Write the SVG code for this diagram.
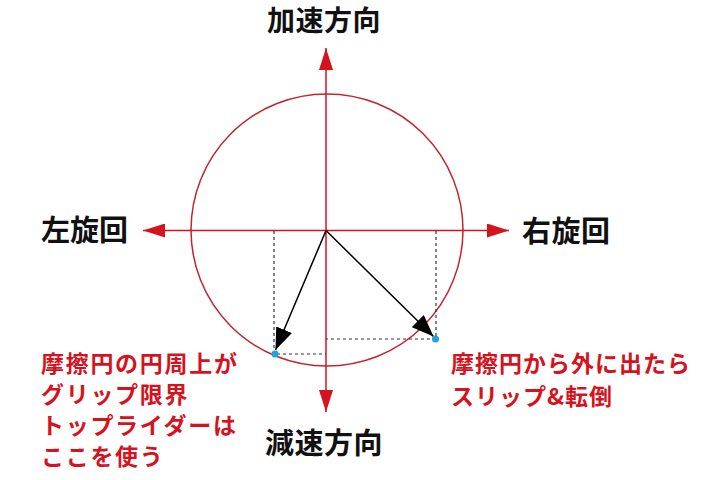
<svg xmlns="http://www.w3.org/2000/svg" width="720" height="480" viewBox="0 0 720 480">
<style>
.lbl{font-family:"Noto Sans CJK JP","Noto Sans",sans-serif;font-weight:700;fill:#111}
.note{font-family:"Noto Sans CJK JP","Noto Sans",sans-serif;font-weight:700;fill:#d5131e;font-size:23px}
.axis{stroke:#d5131e;stroke-width:1.5;fill:none}
.dash{stroke:#333;stroke-width:1.2;stroke-dasharray:3 3;fill:none}
.vec{stroke:#000;stroke-width:1.5;fill:none}
</style>
<defs>
<marker id="ra" viewBox="0 0 22 14" refX="22" refY="7" markerWidth="22" markerHeight="14" markerUnits="userSpaceOnUse" orient="auto"><path d="M0,0 L22,7 L0,14 Z" fill="#d5131e"/></marker>
<marker id="ka" viewBox="0 0 22 17" refX="22" refY="8.5" markerWidth="22" markerHeight="17" markerUnits="userSpaceOnUse" orient="auto"><path d="M0,0 L22,8.5 L0,17 Z" fill="#000"/></marker>
</defs>
<rect width="720" height="480" fill="#fff"/>
<g id="friction-circle">
<circle cx="327" cy="230" r="136" fill="none" stroke="#c0262d" stroke-width="1.5"/>
</g>
<g id="connectors">
<line class="axis" x1="326" y1="230.5" x2="326" y2="48" marker-end="url(#ra)"/>
<line class="axis" x1="326" y1="230.5" x2="326" y2="412" marker-end="url(#ra)"/>
<line class="axis" x1="326" y1="230.5" x2="143" y2="230.5" marker-end="url(#ra)"/>
<line class="axis" x1="326" y1="230.5" x2="509" y2="230.5" marker-end="url(#ra)"/>
<path class="dash" d="M274,231 V354 H326"/>
<path class="dash" d="M436,231 V339 H326"/>
<line class="vec" x1="326" y1="230.5" x2="275.5" y2="350" marker-end="url(#ka)"/>
<line class="vec" x1="326" y1="230.5" x2="433.5" y2="336.5" marker-end="url(#ka)"/>
</g>
<g id="points">
<circle cx="275" cy="354" r="3.5" fill="#1fa3dc"/>
<circle cx="435.5" cy="339" r="3.5" fill="#1fa3dc"/>
</g>
<g id="label-accel"><text class="lbl" x="267" y="31" font-size="28" letter-spacing="0.5">加速方向</text></g>
<g id="label-decel"><text class="lbl" x="265" y="454" font-size="29" letter-spacing="0.5">減速方向</text></g>
<g id="label-left"><text class="lbl" x="41" y="241" font-size="29" letter-spacing="0">左旋回</text></g>
<g id="label-right"><text class="lbl" x="522" y="242" font-size="29" letter-spacing="0.5">右旋回</text></g>
<g id="note-left">
<text class="note" x="41" y="372" letter-spacing="1.7">摩擦円の円周上が</text>
<text class="note" x="41" y="403" letter-spacing="1.7">グリップ限界</text>
<text class="note" x="41" y="434" letter-spacing="1.7">トップライダーは</text>
<text class="note" x="41" y="465" letter-spacing="1.7">ここを使う</text>
</g>
<g id="note-right">
<text class="note" x="451" y="372" letter-spacing="1">摩擦円から外に出たら</text>
<text class="note" x="451" y="405" letter-spacing="1">スリップ&amp;転倒</text>
</g>
</svg>
